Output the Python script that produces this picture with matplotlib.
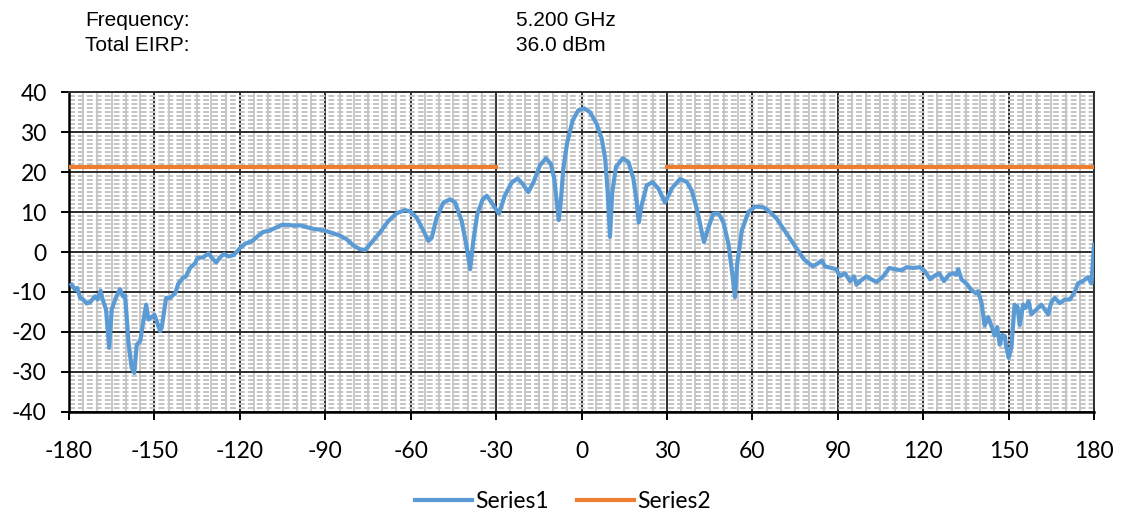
import numpy as np
import matplotlib.pyplot as plt

plt.rcParams['axes.unicode_minus'] = False

# antenna pattern
angle = [-179.1, -177.9, -177.1, -176.1, -175.0, -173.8, -172.6, -170.9, -170.0, -168.9,
         -168.2, -167.0, -165.9, -165.0, -163.8, -162.1, -161.1, -160.3, -159.1, -158.0,
         -157.1, -156.2, -155.0, -154.1, -152.9, -152.1, -150.0, -148.0, -147.4, -145.9,
         -144.5, -142.7, -141.6, -140.0, -138.9, -137.5, -135.7, -134.9, -132.8, -131.0,
         -129.8, -128.3, -126.9, -125.5, -124.0, -122.2, -119.9, -118.1, -115.8, -114.0,
         -111.9, -109.9, -107.6, -105.2, -102.9, -101.1, -98.8, -96.4, -94.1, -91.8,
         -89.4, -87.7, -84.8, -82.5, -80.1, -77.8, -76.0, -73.7, -70.8, -67.8,
         -64.9, -62.0, -60.0, -57.9, -55.5, -53.8, -52.6, -50.9, -48.5, -46.2,
         -44.4, -42.1, -40.3, -39.1, -38.0, -36.6, -34.7, -33.3, -31.8, -29.0,
         -26.9, -24.5, -22.5, -20.7, -18.7, -16.9, -14.6, -12.5, -10.8, -9.6,
         -8.7, -8.0, -7.3, -6.4, -5.0, -3.1, -1.1, 0.9, 3.0, 5.3,
         7.1, 8.3, 9.2, 10.0, 10.8, 12.1, 14.5, 16.5, 18.2, 19.4,
         20.1, 21.1, 22.9, 25.0, 27.0, 29.3, 31.7, 34.6, 37.0, 38.7,
         40.5, 41.9, 43.0, 44.6, 46.3, 48.1, 49.8, 51.6, 53.1, 53.9,
         54.7, 56.3, 58.6, 61.0, 63.9, 66.2, 68.6, 70.9, 73.3, 75.6,
         78.2, 81.2, 82.9, 84.4, 85.5, 87.3, 89.4, 90.8, 92.5, 94.3,
         95.7, 96.6, 97.8, 100.1, 101.9, 103.6, 106.0, 108.1, 110.1, 112.4,
         114.2, 116.5, 118.8, 120.6, 122.4, 124.1, 125.6, 127.3, 129.1, 130.5,
         131.5, 132.3, 133.5, 135.2, 137.0, 138.5, 139.3, 140.5, 141.6, 142.8,
         144.0, 145.1, 146.0, 146.9, 147.8, 148.7, 149.2, 150.0, 151.0, 152.1,
         153.1, 153.9, 155.1, 156.0, 157.0, 158.0, 159.8, 161.5, 163.9, 165.0,
         166.2, 168.0, 169.7, 171.5, 173.2, 174.4, 176.1, 177.9, 179.1, 180.0]
eirp = [-8.2, -9.4, -9.0, -11.5, -11.9, -12.9, -12.6, -11.1, -11.9, -9.7,
        -11.9, -14.4, -24.0, -14.4, -11.9, -9.3, -11.1, -10.9, -22.8, -29.0,
        -30.3, -23.2, -22.3, -18.2, -13.2, -16.9, -15.7, -19.8, -18.7, -11.5,
        -11.5, -10.3, -7.9, -6.5, -6.1, -4.0, -2.8, -1.5, -1.3, -0.3,
        -1.5, -2.6, -1.3, -0.5, -1.1, -0.8, 1.0, 2.1, 2.7, 3.8,
        5.0, 5.3, 6.0, 6.8, 6.8, 6.6, 6.7, 6.2, 5.8, 5.6,
        5.2, 4.8, 4.1, 3.2, 1.6, 0.7, 0.5, 2.4, 4.9, 7.8,
        9.7, 10.5, 10.1, 8.6, 5.3, 2.8, 3.6, 8.6, 12.4, 13.2,
        12.4, 7.8, 1.1, -4.3, 2.8, 9.5, 13.2, 14.1, 12.6, 9.6,
        14.2, 17.4, 18.4, 17.1, 15.0, 17.4, 21.7, 23.5, 22.1, 18.4,
        12.5, 8.0, 12.5, 20.9, 27.5, 33.0, 35.5, 36.0, 35.0, 32.1,
        28.4, 23.4, 15.0, 3.8, 15.0, 21.3, 23.5, 22.5, 18.4, 12.5,
        7.4, 11.7, 16.7, 17.5, 15.9, 12.4, 15.9, 18.3, 17.5, 15.4,
        10.8, 6.2, 2.5, 6.2, 9.6, 9.7, 7.5, 2.1, -6.3, -11.3,
        -2.9, 5.4, 10.0, 11.4, 11.2, 10.0, 8.3, 5.8, 3.3, 0.8,
        -1.9, -3.6, -2.9, -2.1, -3.6, -3.9, -4.3, -6.1, -5.3, -7.3,
        -6.1, -8.2, -7.3, -6.1, -6.9, -7.5, -6.1, -4.0, -4.3, -4.6,
        -3.8, -4.0, -3.8, -4.8, -6.8, -5.9, -5.3, -7.3, -5.7, -5.3,
        -5.7, -4.3, -6.9, -7.9, -9.6, -10.3, -9.8, -12.8, -18.4, -16.3,
        -18.6, -20.9, -18.8, -23.2, -20.8, -21.1, -23.8, -26.5, -23.8, -13.2,
        -13.7, -18.3, -13.2, -14.0, -12.3, -15.6, -14.4, -13.2, -15.6, -12.6,
        -11.5, -12.8, -11.9, -11.9, -10.1, -7.8, -7.3, -6.3, -7.9, 1.8]

# limit line (gap between -30 and 30)
limit_angle = [-180, -30, np.nan, 30, 180]
limit_eirp = [21.2, 21.2, np.nan, 21.2, 21.2]

fig = plt.figure(figsize=(11.26, 5.16), dpi=100)
ax = fig.add_axes([0.0613, 0.2021, 0.9103, 0.619])

ax.plot(angle, eirp, color="#5B9BD5", lw=3.0, label="Series1", zorder=3,
        solid_joinstyle="round")
ax.plot(limit_angle, limit_eirp, color="#ED7D31", lw=3.0, label="Series2", zorder=3)

ax.set_xlim(-180, 180)
ax.set_ylim(-40, 40)
ax.set_xticks(np.arange(-180, 181, 30))
ax.set_yticks(np.arange(-40, 41, 10))
ax.set_xticks(np.arange(-180, 181, 5), minor=True)
ax.set_yticks(np.arange(-40, 41, 1), minor=True)

# minor grid: solid verticals, dashed horizontals
ax.grid(which="minor", axis="x", color="#bfbfbf", lw=1.2, ls="-")
ax.grid(which="minor", axis="y", color="#c4c4c4", lw=1.4, ls=(0, (3, 1.6)))
ax.grid(which="major", color="#2e2e2e", lw=1.4)
ax.set_axisbelow(True)

for s in ["top", "right"]:
    ax.spines[s].set_color("#2e2e2e")
    ax.spines[s].set_linewidth(1.4)
for s in ["left", "bottom"]:
    ax.spines[s].set_color("black")
    ax.spines[s].set_linewidth(1.8)

ax.tick_params(which="major", length=6, width=1.4, color="black", labelsize=16.5)
ax.tick_params(axis="x", pad=15)
ax.tick_params(axis="y", pad=10)
ax.tick_params(which="minor", length=0)
for lab in ax.get_xticklabels() + ax.get_yticklabels():
    lab.set_family("Lato")

fig.text(0.0755, 0.96, "Frequency:", fontsize=15, family="Liberation Sans", va="center")
fig.text(0.0755, 0.911, "Total EIRP:", fontsize=15, family="Liberation Sans", va="center")
fig.text(0.4585, 0.96, "5.200 GHz", fontsize=15, family="Liberation Sans", va="center")
fig.text(0.4585, 0.911, "36.0 dBm", fontsize=15, family="Liberation Sans", va="center")

fig.legend(loc="center", bbox_to_anchor=(0.5, 0.028), ncol=2, frameon=False,
           prop={"family": "Lato", "size": 16.5}, handlelength=2.5,
           handletextpad=0.15, columnspacing=1.2)

fig.savefig("out.png", dpi=100)
